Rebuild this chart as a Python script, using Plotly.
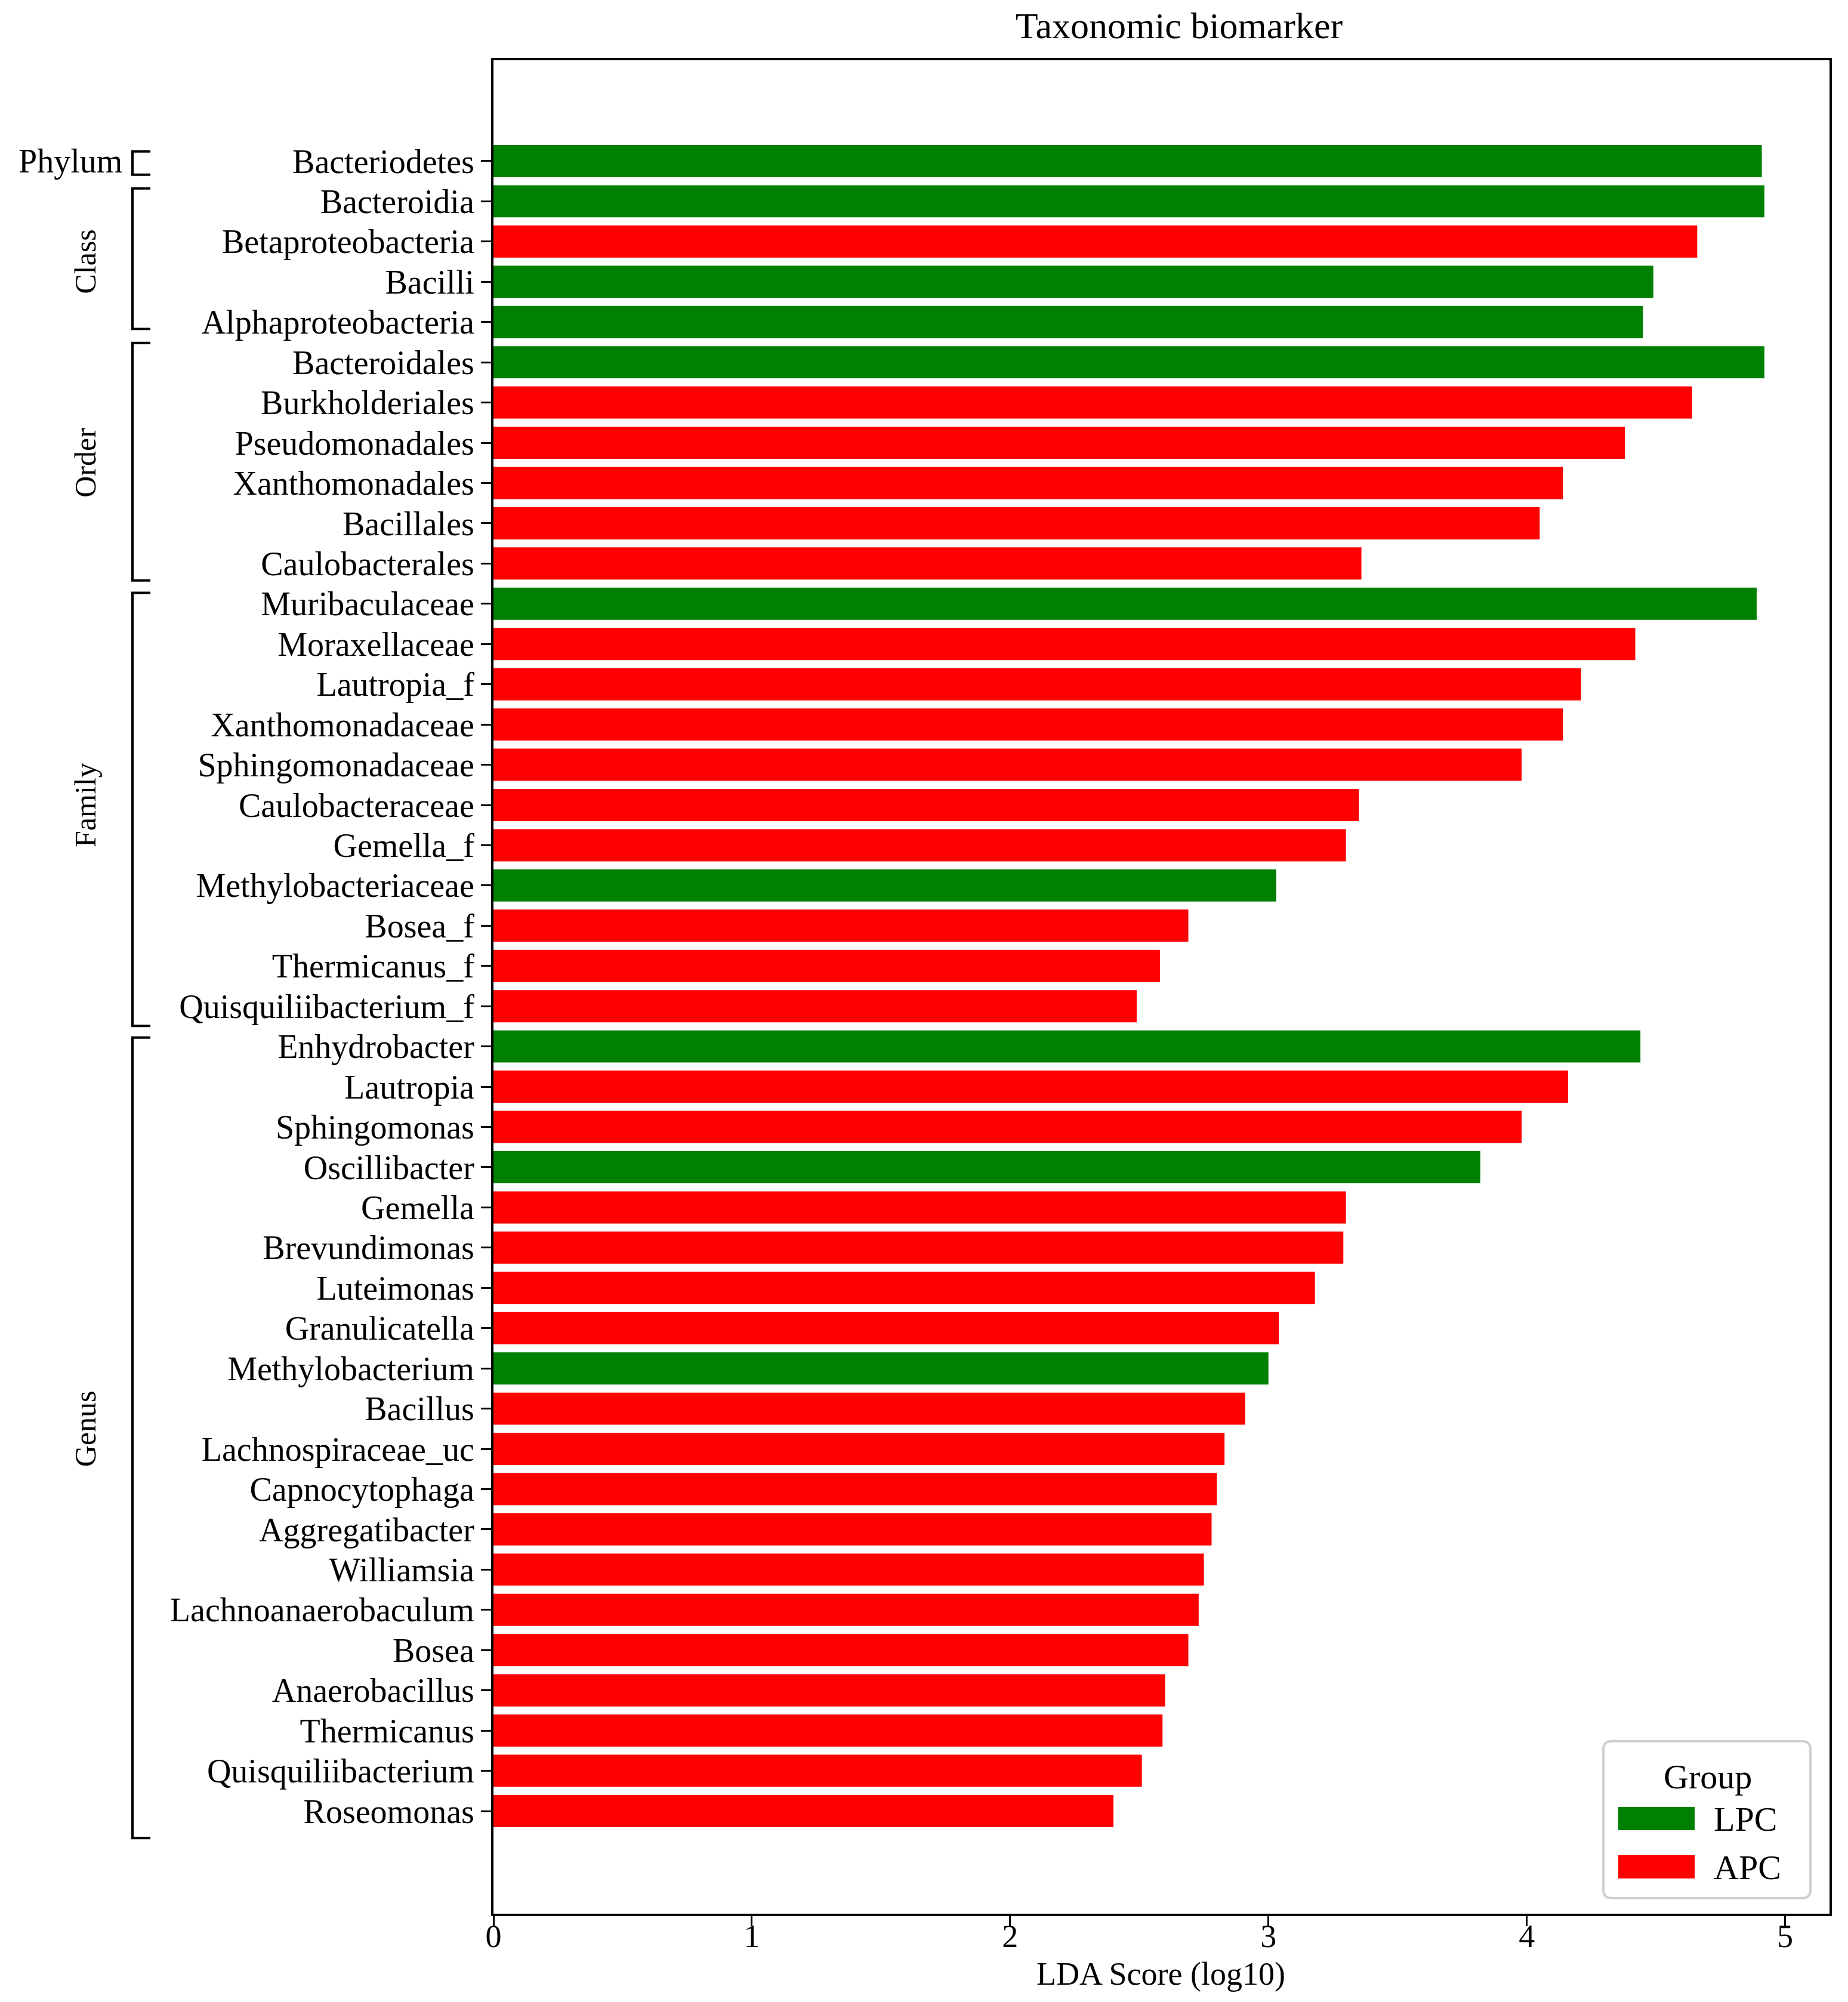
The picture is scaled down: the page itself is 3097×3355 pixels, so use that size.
import plotly.graph_objects as go

# taxa in display order (top to bottom), with LDA score, enriched group and rank
taxa = ["Bacteriodetes",
        "Bacteroidia", "Betaproteobacteria", "Bacilli", "Alphaproteobacteria",
        "Bacteroidales", "Burkholderiales", "Pseudomonadales", "Xanthomonadales",
        "Bacillales", "Caulobacterales",
        "Muribaculaceae", "Moraxellaceae", "Lautropia_f", "Xanthomonadaceae",
        "Sphingomonadaceae", "Caulobacteraceae", "Gemella_f", "Methylobacteriaceae",
        "Bosea_f", "Thermicanus_f", "Quisquiliibacterium_f",
        "Enhydrobacter", "Lautropia", "Sphingomonas", "Oscillibacter", "Gemella",
        "Brevundimonas", "Luteimonas", "Granulicatella", "Methylobacterium",
        "Bacillus", "Lachnospiraceae_uc", "Capnocytophaga", "Aggregatibacter",
        "Williamsia", "Lachnoanaerobaculum", "Bosea", "Anaerobacillus",
        "Thermicanus", "Quisquiliibacterium", "Roseomonas"]

lda = [4.91,
       4.92, 4.66, 4.49, 4.45,
       4.92, 4.64, 4.38, 4.14, 4.05, 3.36,
       4.89, 4.42, 4.21, 4.14, 3.98, 3.35, 3.30, 3.03, 2.69, 2.58, 2.49,
       4.44, 4.16, 3.98, 3.82, 3.30, 3.29, 3.18, 3.04, 3.00, 2.91, 2.83,
       2.80, 2.78, 2.75, 2.73, 2.69, 2.60, 2.59, 2.51, 2.40]

group = ["LPC",
         "LPC", "APC", "LPC", "LPC",
         "LPC", "APC", "APC", "APC", "APC", "APC",
         "LPC", "APC", "APC", "APC", "APC", "APC", "APC", "LPC", "APC", "APC", "APC",
         "LPC", "APC", "APC", "LPC", "APC", "APC", "APC", "APC", "LPC", "APC", "APC",
         "APC", "APC", "APC", "APC", "APC", "APC", "APC", "APC", "APC"]

rank = ["Phylum"] + ["Class"] * 4 + ["Order"] * 6 + ["Family"] * 11 + ["Genus"] * 20

levels = ["Phylum", "Class", "Order", "Family", "Genus"]
groups = ["LPC", "APC"]
colors = {"LPC": "#008000", "APC": "#FF0000"}
x_ticks = [0, 1, 2, 3, 4, 5]

# how far each bracket reaches past its first / last row (in rows)
bracket_pad = {"Phylum": (0.24, 0.34), "Class": (0.32, 0.17), "Order": (0.48, 0.42),
               "Family": (0.27, 0.49), "Genus": (0.22, 0.67)}

FONT = "Liberation Serif, Times New Roman, serif"
PAGE_W, PAGE_H = 3097, 3355
OFF = 8  # default body margin of the html page
W, H = PAGE_W - 2 * OFF, PAGE_H - 2 * OFF
# plot area edges in page pixels
L, R, T, B = 827, 3066, 101, 3207


def xp(px):
    return (px - L) / (R - L)


def yp(py):
    return (B - py) / (B - T)


fig = go.Figure()
for g in groups:
    fig.add_trace(go.Bar(
        x=[v for v, gg in zip(lda, group) if gg == g],
        y=[t for t, gg in zip(taxa, group) if gg == g],
        orientation="h", name=g, width=0.8,
        marker=dict(color=colors[g], line=dict(width=0)),
        showlegend=False))

shapes = []
annotations = []

# rank brackets and labels on the left
for lev in levels:
    idx = [i for i, r in enumerate(rank) if r == lev]
    y0, y1 = idx[0] - bracket_pad[lev][0], idx[-1] + bracket_pad[lev][1]
    xa, xb = xp(222), xp(252)
    shapes.append(dict(type="path", xref="paper", yref="y",
                       path=f"M {xb},{y0} L {xa},{y0} L {xa},{y1} L {xb},{y1}",
                       line=dict(color="black", width=4)))
    yc = (idx[0] + idx[-1]) / 2
    if lev == "Phylum":
        annotations.append(dict(x=xp(207), y=yc, xref="paper", yref="y",
                                text=lev, showarrow=False,
                                xanchor="right", yanchor="middle",
                                font=dict(family=FONT, size=56, color="black")))
    else:
        annotations.append(dict(x=xp(143), y=yc, xref="paper", yref="y",
                                text=lev, showarrow=False, textangle=-90,
                                xanchor="center", yanchor="middle",
                                font=dict(family=FONT, size=50, color="black")))

# x axis title
annotations.append(dict(x=xp(1945), y=yp(3308), xref="paper", yref="paper",
                        text="LDA Score (log10)", showarrow=False,
                        xanchor="center", yanchor="middle",
                        font=dict(family=FONT, size=54, color="black")))

# legend drawn by hand to get the large swatches
x0, x1, ty, by = xp(2687), xp(3034), yp(2918), yp(3181)
rx, ry = 14 / (R - L), 14 / (B - T)
shapes.append(dict(
    type="path", xref="paper", yref="paper",
    path=(f"M {x0+rx},{ty} L {x1-rx},{ty} Q {x1},{ty} {x1},{ty-ry} "
          f"L {x1},{by+ry} Q {x1},{by} {x1-rx},{by} L {x0+rx},{by} "
          f"Q {x0},{by} {x0},{by+ry} L {x0},{ty-ry} Q {x0},{ty} {x0+rx},{ty} Z"),
    line=dict(color="#cfcfcf", width=4), fillcolor="white"))
annotations.append(dict(x=xp(2862), y=yp(2977), xref="paper", yref="paper",
                        text="Group", showarrow=False,
                        xanchor="center", yanchor="middle",
                        font=dict(family=FONT, size=58, color="black")))
for k, g in enumerate(groups):
    top = 3028 + k * 81
    shapes.append(dict(type="rect", xref="paper", yref="paper",
                       x0=xp(2712), x1=xp(2840), y0=yp(top + 39), y1=yp(top),
                       fillcolor=colors[g], line=dict(width=0)))
    annotations.append(dict(x=xp(2870), y=yp(top + 20), xref="paper", yref="paper",
                            text=g, showarrow=False,
                            xanchor="left", yanchor="middle",
                            font=dict(family=FONT, size=58, color="black")))

fig.update_layout(
    width=W, height=H,
    margin=dict(l=L - OFF, r=PAGE_W - OFF - R, t=T - OFF, b=PAGE_H - OFF - B, pad=0),
    paper_bgcolor="white", plot_bgcolor="white",
    barmode="overlay",
    title=dict(text="Taxonomic biomarker", x=(1976 - OFF) / W, y=1 - (42 - OFF) / H,
               xanchor="center", yanchor="middle", xref="container", yref="container",
               font=dict(family=FONT, size=62, color="black")),
    font=dict(family=FONT, size=56, color="black"),
    shapes=shapes, annotations=annotations,
)

fig.update_xaxes(range=[0, 5.172], tickmode="array", tickvals=x_ticks,
                 showline=True, linewidth=4, linecolor="black", mirror=True,
                 ticks="outside", ticklen=17, tickwidth=3, tickcolor="black",
                 ticklabelstandoff=-30,
                 showgrid=False, zeroline=False,
                 tickfont=dict(family=FONT, size=54, color="black"))

fig.update_yaxes(type="category", categoryorder="array", categoryarray=taxa,
                 tickmode="array", tickvals=taxa, ticktext=taxa,
                 range=[len(taxa) - 1 + 2.55, -2.505],
                 showline=True, linewidth=4, linecolor="black", mirror=True,
                 ticks="outside", ticklen=17, tickwidth=3, tickcolor="black",
                 showgrid=False, zeroline=False,
                 tickfont=dict(family=FONT, size=56, color="black"))

fig.write_html("out.html")
